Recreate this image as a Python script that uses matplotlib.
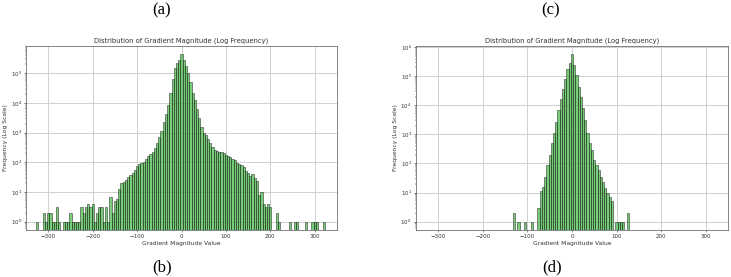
import matplotlib
matplotlib.use("Agg")
import matplotlib.pyplot as plt
from matplotlib.ticker import NullFormatter
import numpy as np

# bin centres and counts (bin width 5)
left_centers = np.arange(-325, 330, 5)
left_counts = [
    1, 0, 0, 2, 1, 2, 2, 1, 1, 3,            # -325 .. -280
    1, 0, 1, 1, 1, 2, 1, 1, 1, 1,            # -275 .. -230
    3, 2, 3, 4, 3, 4, 1, 2, 3, 3,            # -225 .. -180
    1, 3, 1, 7, 2, 5, 6, 13, 20, 22,         # -175 .. -130
    26, 33, 38, 43, 55, 74, 87, 95, 105, 129,  # -125 .. -80
    166, 186, 214, 302, 437, 692, 1150, 2340, 4370, 8700,  # -75 .. -30
    21900, 61700, 148000, 219000, 282000,    # -25 .. -5
    442000,                                  # 0
    282000, 178000, 100000, 50100, 22400,    # 5 .. 25
    12600, 6310, 3160, 1580, 1000, 832, 603, 457, 316, 269,  # 30 .. 75
    245, 229, 219, 204, 182, 158, 148, 132, 123, 95,         # 80 .. 125
    87, 78, 68, 52, 44, 34, 40, 30, 24, 8,   # 130 .. 175
    10, 4, 3, 4, 3, 0, 0, 2, 1, 0,           # 180 .. 225
    0, 0, 0, 1, 0, 1, 1, 0, 0, 0,            # 230 .. 275
    1, 0, 0, 1, 1, 1, 0, 0, 1, 0,            # 280 .. 325
]

right_centers = np.arange(-130, 130, 5)
right_counts = [
    2, 0, 1, 0, 0, 1, 0, 0, 1, 0,            # -130 .. -85
    0, 3, 11, 16, 35, 88, 195, 490, 1070, 2690,  # -80 .. -35
    6760, 17000, 37200, 83000, 170000, 282000,   # -30 .. -5
    575000,                                  # 0
    251000, 107000, 42700, 19500, 7760, 3090, 1070, 490, 288, 132,  # 5 .. 50
    88, 59, 35, 23, 14, 10, 7, 5, 0, 1,      # 55 .. 100
    1, 1, 1, 0, 2,                           # 105 .. 125
]

x_ticks = [-300, -200, -100, 0, 100, 200, 300]

title = "Distribution of Gradient Magnitude (Log Frequency)"
xlabel = "Gradient Magnitude Value"
ylabel = "Frequency (Log Scale)"


def draw(ax, centers, counts):
    edges = np.append(centers - 2.5, centers[-1] + 2.5)
    ax.hist(centers, bins=edges, weights=counts, log=True,
            color='#4cbb4c', edgecolor='black', linewidth=0.4, alpha=0.75)
    ax.set_xlim(-350, 350)
    ax.set_xticks(x_ticks)
    ax.set_axisbelow(True)
    ax.grid(True, color='#d0d0d0', linewidth=0.7)
    ax.set_title(title, fontsize=4.9, pad=2.5, color='#333333')
    ax.set_xlabel(xlabel, fontsize=4.3, labelpad=1.5, color='#333333')
    ax.set_ylabel(ylabel, fontsize=4.3, labelpad=2, color='#333333')
    ax.tick_params(labelsize=4.0, length=1.5, width=0.4, pad=1.5,
                   colors='#333333')
    ax.tick_params(which='minor', length=0.9, width=0.3)
    ax.yaxis.set_minor_formatter(NullFormatter())
    for s in ax.spines.values():
        s.set_linewidth(0.5)
        s.set_color('#555555')


fig = plt.figure(figsize=(7.31, 2.77), dpi=100)
ax1 = fig.add_axes([0.0356, 0.1697, 0.4254, 0.6653])
ax2 = fig.add_axes([0.569, 0.1697, 0.4268, 0.6653])
draw(ax1, left_centers, left_counts)
draw(ax2, right_centers, right_counts)

serif = 'Liberation Serif'
fig.text(162 / 731, 1 - 10 / 277, "(a)", ha='center', va='center', fontsize=12, family=serif)
fig.text(551 / 731, 1 - 10 / 277, "(c)", ha='center', va='center', fontsize=12, family=serif)
fig.text(162 / 731, 1 - 267 / 277, "(b)", ha='center', va='center', fontsize=12, family=serif)
fig.text(552 / 731, 1 - 267 / 277, "(d)", ha='center', va='center', fontsize=12, family=serif)

fig.savefig("out.png", dpi=100)
